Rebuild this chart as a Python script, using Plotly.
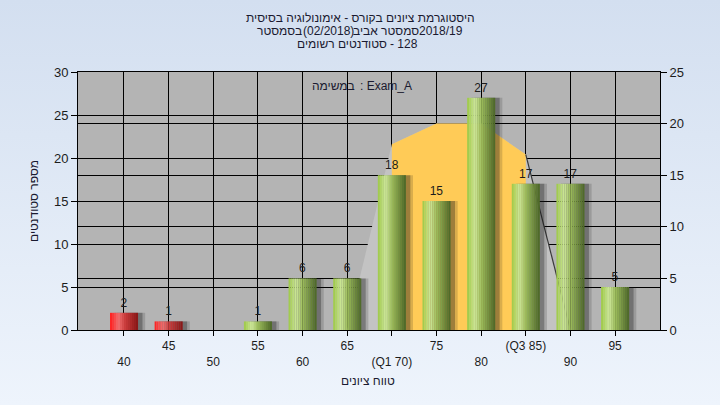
import base64
import plotly.graph_objects as go

# ---------------- data ----------------
categories = [40, 45, 50, 55, 60, 65, 70, 75, 80, 85, 90, 95]
tick_labels = ["40", "45", "50", "55", "60", "65", "(Q1 70)", "75", "80", "(Q3 85)", "90", "95"]
counts = [2, 1, 0, 1, 6, 6, 18, 15, 27, 17, 17, 5]
fail_categories = [40, 45]

curve_x = [65, 70, 75, 80, 85, 90]
curve_y = [0, 18, 20, 20, 17, 0]
iqr_x = [70, 75, 80, 85]
iqr_y = [18, 20, 20, 17]
edge_x = [85, 90]
edge_y = [17, 0]

title_line1 = "היסטוגרמת ציונים בקורס - אימונולוגיה בסיסית"
# line 2 / 3 pieces, in visual left-to-right order (each piece has a single direction)
title_line2_parts = ["בסמסטר", "(02/2018)", "סמסטר אביב", "2018/19"]
title_line2_center = [279, 328, 386, 441]
title_line3_parts = ["סטודנטים רשומים", "- 128"]
title_line3_center = [342, 404]
task_label_parts = ["במשימה", ": Exam_A"]
task_label_center = [333, 386]
x_title = "טווח ציונים"
y_title = "מספר סטודנטים"

FONT = "Liberation Sans, Arial, DejaVu Sans, sans-serif"
TXT = "#1c1c1c"
HEAD = "#1a1a30"


def hex2rgb(h):
    h = h.lstrip("#")
    return tuple(int(h[i:i + 2], 16) for i in (0, 2, 4))


def grad(stops, t):
    for (t0, c0), (t1, c1) in zip(stops, stops[1:]):
        if t0 <= t <= t1:
            f = (t - t0) / (t1 - t0) if t1 > t0 else 0
            a, b = hex2rgb(c0), hex2rgb(c1)
            return "rgb(%d,%d,%d)" % tuple(round(a[k] + (b[k] - a[k]) * f) for k in range(3))
    return stops[-1][1]


green_stops = [(0, "#9cc844"), (0.28, "#cde79a"), (0.5, "#9dbd5c"), (1, "#4a6526")]
red_stops = [(0, "#ff1c1c"), (0.3, "#ef6f6f"), (0.55, "#c83a3a"), (1, "#861616")]

fig = go.Figure()

# distribution area (right axis = y)
fig.add_trace(go.Scatter(x=curve_x, y=curve_y, yaxis="y", mode="lines", fill="tozeroy",
                         fillcolor="#c3c3c3", line=dict(width=0, color="rgba(0,0,0,0)"),
                         hoverinfo="skip", showlegend=False))
fig.add_trace(go.Scatter(x=iqr_x, y=iqr_y, yaxis="y", mode="lines", fill="tozeroy",
                         fillcolor="#ffcb57", line=dict(width=0, color="rgba(0,0,0,0)"),
                         hoverinfo="skip", showlegend=False))
fig.add_trace(go.Scatter(x=edge_x, y=edge_y, yaxis="y", mode="lines",
                         line=dict(width=1.2, color="#3a3a3a"),
                         hoverinfo="skip", showlegend=False))

# bars (left axis = y2)
W = 3.14
for off, alpha in [(0.8, 0.16), (0.5, 0.3)]:
    fig.add_trace(go.Bar(x=categories, y=counts, yaxis="y2", width=W, offset=-W / 2 + off,
                         marker=dict(color="rgba(20,20,20,%.2f)" % alpha, line=dict(width=0)),
                         hoverinfo="skip", showlegend=False))

N = 14
sw = W / N
for i in range(N):
    t = (i + 0.5) / N
    cols = [grad(red_stops if c in fail_categories else green_stops, t) for c in categories]
    fig.add_trace(go.Bar(x=categories, y=counts, yaxis="y2", width=sw * 1.02,
                         offset=-W / 2 + i * sw,
                         marker=dict(color=cols, line=dict(width=0)),
                         hoverinfo="skip", showlegend=False))

fig.add_trace(go.Bar(x=categories, y=counts, yaxis="y2", width=W,
                     marker=dict(color="rgba(0,0,0,0)", line=dict(width=0)),
                     text=[str(c) if c else "" for c in counts], textposition="outside",
                     textfont=dict(size=12, color=TXT, family=FONT), cliponaxis=False,
                     hoverinfo="skip", showlegend=False))

# background gradient
svg = ('<svg xmlns="http://www.w3.org/2000/svg" width="720" height="405">'
       '<defs><linearGradient id="g" x1="0" y1="0" x2="0" y2="1">'
       '<stop offset="0" stop-color="#d3dff0"/><stop offset="1" stop-color="#eef4fc"/>'
       '</linearGradient></defs><rect width="720" height="405" fill="url(#g)"/></svg>')
src = "data:image/svg+xml;base64," + base64.b64encode(svg.encode()).decode()

L, R, T, B = 78, 60, 72, 75
PW, PH = 720 - L - R, 405 - T - B


def px(xp):
    return (xp - L) / PW


def py(yp):
    return (405 - B - yp) / PH


def note(text, x, y, angle=0):
    return dict(text=text, xref="paper", yref="paper", x=px(x), y=py(y),
                xanchor="center", yanchor="middle", showarrow=False, textangle=angle,
                font=dict(size=12, color=HEAD, family=FONT))


annotations = [note(title_line1, 360, 18)]
for part, xc in zip(title_line2_parts, title_line2_center):
    annotations.append(note(part, xc, 31))
for part, xc in zip(title_line3_parts, title_line3_center):
    annotations.append(note(part, xc, 44))
for part, xc in zip(task_label_parts, task_label_center):
    annotations.append(note(part, xc, 86))
annotations.append(note(x_title, 368, 381))
annotations.append(note(y_title, 34, 201, angle=-90))

ticktext = [("<br>" + t) if i % 2 == 0 else t for i, t in enumerate(tick_labels)]

fig.update_layout(
    width=720, height=405,
    margin=dict(l=L, r=R, t=T, b=B, pad=0),
    paper_bgcolor="#e2eaf6",
    plot_bgcolor="rgba(0,0,0,0)",
    barmode="overlay",
    font=dict(family=FONT, size=12, color=TXT),
    images=[dict(source=src, xref="paper", yref="paper", x=px(0), y=py(0),
                 sizex=720 / PW, sizey=405 / PH, sizing="stretch", layer="below",
                 xanchor="left", yanchor="top")],
    shapes=[dict(type="rect", xref="paper", yref="paper", x0=0, x1=1, y0=0, y1=1,
                 fillcolor="#b4b4b4", line=dict(width=0), layer="below")],
    annotations=annotations,
    xaxis=dict(range=[34.85, 100.03], tickmode="array", tickvals=categories, ticktext=ticktext,
               ticks="outside", ticklen=5, tickcolor="black", showgrid=True, gridcolor="black",
               gridwidth=1, showline=True, linecolor="black", linewidth=1, mirror=True,
               zeroline=False, tickfont=dict(size=12, color=TXT)),
    yaxis=dict(range=[0, 25], side="right", tickvals=[0, 5, 10, 15, 20, 25], ticks="outside",
               ticklen=6, tickcolor="black", showgrid=True, gridcolor="black", gridwidth=1,
               showline=True, linecolor="black", linewidth=1, zeroline=False,
               tickfont=dict(size=13, color=TXT)),
    yaxis2=dict(range=[0, 30], side="left", overlaying="y", tickvals=[0, 5, 10, 15, 20, 25, 30],
                ticks="outside", ticklen=6, tickcolor="black", showgrid=True, gridcolor="black",
                gridwidth=1, showline=True, linecolor="black", linewidth=1, zeroline=False,
                tickfont=dict(size=13, color=TXT)),
)

fig.write_html("out.html", config={"displayModeBar": False},
               post_script="document.body.style.margin='0';")
